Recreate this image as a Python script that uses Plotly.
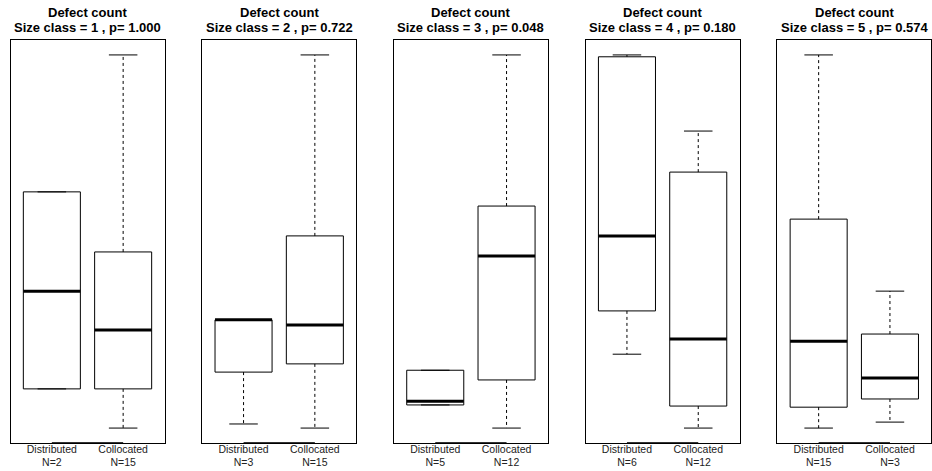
import plotly.graph_objects as go

# ---------------- data (relative defect-count units) ----------------
groups = ["Distributed", "Collocated"]
size_classes = [1, 2, 3, 4, 5]
p_values = ["1.000", "0.722", "0.048", "0.180", "0.574"]
n_dist = [2, 3, 5, 6, 15]
n_coll = [15, 15, 12, 12, 3]

dist_lower = [10.5, 1.1, 6.2, 19.8, 0.0]
dist_q1 = [10.5, 15.0, 6.2, 31.4, 5.6]
dist_median = [36.7, 29.0, 7.2, 51.5, 23.3]
dist_q3 = [63.3, 29.0, 15.5, 99.5, 56.0]
dist_upper = [63.3, 29.0, 15.5, 100.0, 100.0]

coll_lower = [0.0, 0.0, 0.0, 0.0, 1.6]
coll_q1 = [10.5, 17.2, 12.9, 5.9, 7.8]
coll_median = [26.3, 27.6, 46.1, 23.9, 13.4]
coll_q3 = [47.2, 51.5, 59.5, 68.6, 25.2]
coll_upper = [100.0, 100.0, 100.0, 79.6, 36.7]

# ---------------- layout constants ----------------
W, H = 932, 471
TOP, BOTTOM = 40, 28
PLOT_H = H - TOP - BOTTOM
panel_left = [10.5, 202.2, 393.9, 585.6, 777.3]
panel_w = 154.0
BOX_HALF = 0.4
CAP_HALF = 0.2
FONT = "Liberation Sans, Arial, Helvetica, sans-serif"

fig = go.Figure()
annotations = []

for i in range(len(size_classes)):
    ax = "" if i == 0 else str(i + 1)
    xref, yref = "x" + ax, "y" + ax
    stats = [
        (dist_lower[i], dist_q1[i], dist_median[i], dist_q3[i], dist_upper[i]),
        (coll_lower[i], coll_q1[i], coll_median[i], coll_q3[i], coll_upper[i]),
    ]
    allv = [v for s in stats for v in s]
    lo, hi = min(allv), max(allv)
    pad = 0.04 * (hi - lo)
    ylo, yhi = lo - pad, hi + pad

    for g, (lw, q1, med, q3, up) in enumerate(stats):
        pos = g + 1
        # whiskers (dashed)
        fig.add_trace(go.Scatter(
            x=[pos, pos, None, pos, pos], y=[q3, up, None, q1, lw],
            mode="lines", line=dict(color="black", width=1, dash="3px,3px"),
            xaxis=xref, yaxis=yref, showlegend=False, hoverinfo="skip"))
        # caps
        fig.add_trace(go.Scatter(
            x=[pos - CAP_HALF, pos + CAP_HALF, None, pos - CAP_HALF, pos + CAP_HALF],
            y=[up, up, None, lw, lw],
            mode="lines", line=dict(color="black", width=1),
            xaxis=xref, yaxis=yref, showlegend=False, hoverinfo="skip"))
        # box
        fig.add_trace(go.Scatter(
            x=[pos - BOX_HALF, pos + BOX_HALF, pos + BOX_HALF, pos - BOX_HALF, pos - BOX_HALF],
            y=[q1, q1, q3, q3, q1],
            mode="lines", line=dict(color="black", width=1),
            xaxis=xref, yaxis=yref, showlegend=False, name=groups[g]))
        # median
        fig.add_trace(go.Scatter(
            x=[pos - BOX_HALF, pos + BOX_HALF], y=[med, med],
            mode="lines", line=dict(color="black", width=3),
            xaxis=xref, yaxis=yref, showlegend=False, hoverinfo="skip"))

    # axis segment between the two group positions (R axis line)
    fig.add_trace(go.Scatter(
        x=[1, 2], y=[ylo, ylo], mode="lines", line=dict(color="#333", width=2),
        xaxis=xref, yaxis=yref, showlegend=False, hoverinfo="skip", cliponaxis=False))

    x0 = panel_left[i] / W
    x1 = (panel_left[i] + panel_w) / W
    axis_common = dict(showgrid=False, zeroline=False, showline=True, mirror=True,
                       linecolor="black", linewidth=1, ticks="")
    fig.update_layout({
        "xaxis" + ax: dict(domain=[x0, x1], range=[0.42, 2.58], anchor=yref,
                           tickvals=[1, 2],
                           ticktext=[f"{groups[0]}<br>N={n_dist[i]}", f"{groups[1]}<br>N={n_coll[i]}"],
                           tickfont=dict(family=FONT, size=10.5, color="#222"),
                           ticklabelstandoff=-4,
                           **axis_common),
        "yaxis" + ax: dict(domain=[0, 1], range=[ylo, yhi], anchor=xref,
                           showticklabels=False, **axis_common),
    })

    cx = (panel_left[i] + panel_w / 2) / W
    annotations.append(dict(text="<b>Defect count</b>", x=cx, y=1 + (TOP - 12) / PLOT_H,
                            xref="paper", yref="paper",
                            showarrow=False, xanchor="center", yanchor="middle",
                            font=dict(family=FONT, size=13, color="black")))
    annotations.append(dict(text=f"<b>Size class = {size_classes[i]} , p= {p_values[i]}</b>",
                            x=cx, y=1 + (TOP - 27) / PLOT_H, xref="paper", yref="paper",
                            showarrow=False, xanchor="center", yanchor="middle",
                            font=dict(family=FONT, size=13, color="black")))

fig.update_layout(
    width=W, height=H,
    margin=dict(l=0, r=0, t=TOP, b=BOTTOM),
    paper_bgcolor="white", plot_bgcolor="white",
    annotations=annotations,
    showlegend=False,
)

fig.write_html("out.html", config={"displayModeBar": False},
               post_script="document.body.style.margin='0';")
